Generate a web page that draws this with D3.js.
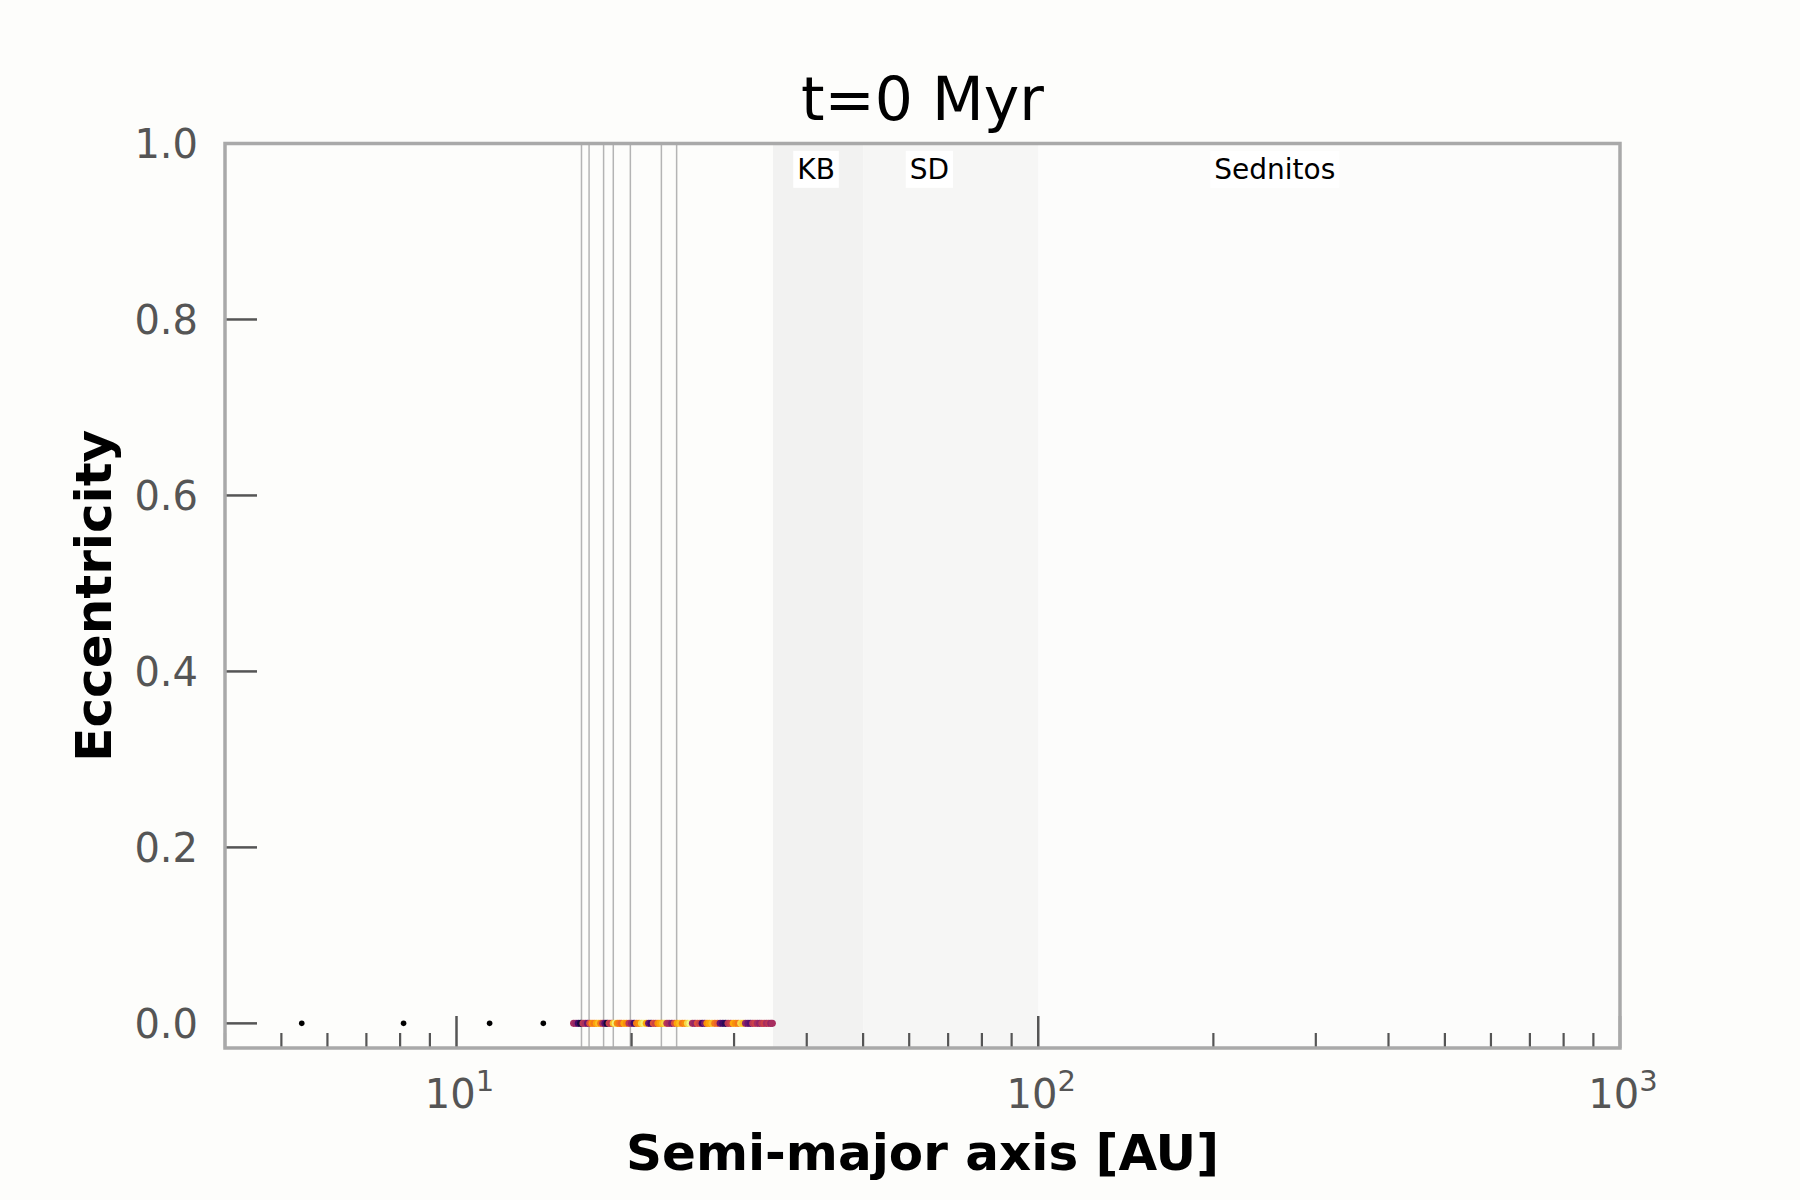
<!DOCTYPE html>
<html>
<head>
<meta charset="utf-8">
<script src="https://cdn.jsdelivr.net/npm/d3@7"></script>
<style>
  body { margin: 0; background: #fdfdfb; }
  text { font-family: "DejaVu Sans", sans-serif; }
</style>
</head>
<body>
<svg id="chart" width="1800" height="1200"></svg>
<script>
// --- data ---
var title = 't=0 Myr';
var planetA = [5.42, 8.11, 11.4, 14.1];
var resonanceA = [16.4, 16.9, 17.9, 18.6, 19.9, 22.5, 23.9];
var diskA = [15.9, 16.05, 16.2, 16.35, 16.5, 16.65, 16.8, 16.95, 17.1, 17.25, 17.4, 17.55, 17.7,
    17.85, 18.0, 18.15, 18.3, 18.45, 18.6, 18.75, 18.9, 19.05, 19.2, 19.4, 19.6, 19.8, 20.0,
    20.2, 20.4, 20.6, 20.8, 21.0, 21.2, 21.4, 21.6, 21.8, 22.0, 22.2, 22.4, 22.6, 22.8, 23.0,
    23.2, 23.45, 23.7, 23.95, 24.2, 24.45, 24.7, 24.95, 25.2, 25.45, 25.7, 25.95, 26.2, 26.45,
    26.7, 26.95, 27.2, 27.5, 27.8, 28.1, 28.4, 28.7, 29.0, 29.3, 29.6, 29.9, 30.2, 30.5, 30.8,
    31.1, 31.4, 31.7, 32.0, 32.3, 32.6, 32.9, 33.2, 33.5, 33.8, 34.1, 34.4, 34.7, 34.9];
var diskE = diskA.map(function() { return 0; });
var diskC = [0.45, 0.4, 0.2, 0.1, 0.5, 0.45, 0.3, 0.6, 0.75, 0.7, 0.8, 0.85, 0.7, 0.45, 0.25,
    0.1, 0.55, 0.5, 0.85, 0.95, 0.75, 0.7, 0.65, 0.8, 0.75, 0.5, 0.4, 0.2, 0.7, 0.75, 0.9,
    0.95, 0.8, 0.3, 0.2, 0.6, 0.55, 0.75, 0.8, 0.85, 0.9, 0.5, 0.45, 0.35, 0.6, 0.8, 0.85,
    0.7, 0.75, 0.9, 0.97, 0.45, 0.4, 0.6, 0.55, 0.2, 0.35, 0.75, 0.8, 0.85, 0.7, 0.65, 0.3,
    0.2, 0.15, 0.5, 0.55, 0.8, 0.75, 0.7, 0.9, 0.85, 0.4, 0.3, 0.25, 0.5, 0.55, 0.45, 0.4,
    0.5, 0.55, 0.45, 0.5, 0.4, 0.45];
var regionNames = ['KB', 'SD', 'Sednitos'];
var regionFrom = [35, 50, 100];
var regionTo = [50, 100, 1000];
var regionLabelA = [41.5, 65, 255];
var regionFill = ['#f2f2f1', '#f6f6f5', '#fcfcfb'];
var yTicks = [0, 0.2, 0.4, 0.6, 0.8, 1.0];
var xDecades = [1, 2, 3];

// plot box (window.top is reserved, so prefixed names)
var pLeft = 225, pRight = 1620, pTop = 143.5, pBottom = 1048;
var svg = d3.select('#chart');

var x = d3.scaleLog().domain([4, 1000]).range([pLeft, pRight]);
var y = d3.scaleLinear().domain([-0.028, 1.0]).range([pBottom, pTop]);

// shaded regions
svg.selectAll('.region')
    .data(regionNames).enter().append('rect')
    .attr('class', 'region')
    .attr('x', function(d, i) { return x(regionFrom[i]); })
    .attr('width', function(d, i) { return x(regionTo[i]) - x(regionFrom[i]); })
    .attr('y', pTop)
    .attr('height', pBottom - pTop)
    .attr('fill', function(d, i) { return regionFill[i]; });

// resonance lines
svg.selectAll('.res')
    .data(resonanceA).enter().append('line')
    .attr('x1', function(d) { return x(d); })
    .attr('x2', function(d) { return x(d); })
    .attr('y1', pTop).attr('y2', pBottom)
    .attr('stroke', '#b4b4b4').attr('stroke-width', 1.5);

// region labels with white box
var lab = svg.selectAll('.rlab')
    .data(regionNames).enter().append('g')
    .attr('transform', function(d, i) { return 'translate(' + x(regionLabelA[i]) + ',169)'; });
lab.append('text')
    .attr('text-anchor', 'middle')
    .attr('dy', '0.35em')
    .attr('font-size', 28)
    .attr('fill', '#000')
    .text(function(d) { return d; })
    .each(function() {
        var b = this.getBBox();
        d3.select(this.parentNode).insert('rect', 'text')
            .attr('x', b.x - 4).attr('y', b.y - 2)
            .attr('width', b.width + 8).attr('height', b.height + 4)
            .attr('fill', '#ffffff');
    });

// ticks (inward)
var minor = [];
[1, 10, 100].forEach(function(p) {
    for (var k = 2; k <= 9; k++) if (p * k >= 4 && p * k < 1000) minor.push(p * k);
});
svg.selectAll('.xminor')
    .data(minor).enter().append('line')
    .attr('x1', function(d) { return x(d); }).attr('x2', function(d) { return x(d); })
    .attr('y1', pBottom).attr('y2', pBottom - 15)
    .attr('stroke', '#555').attr('stroke-width', 2.2);
svg.selectAll('.xmajor')
    .data(xDecades).enter().append('line')
    .attr('x1', function(d) { return x(Math.pow(10, d)); }).attr('x2', function(d) { return x(Math.pow(10, d)); })
    .attr('y1', pBottom).attr('y2', pBottom - 32)
    .attr('stroke', '#555').attr('stroke-width', 2.5);
svg.selectAll('.ytick')
    .data(yTicks).enter().append('line')
    .attr('x1', pLeft).attr('x2', pLeft + 32)
    .attr('y1', function(d) { return y(d); }).attr('y2', function(d) { return y(d); })
    .attr('stroke', '#555').attr('stroke-width', 2.5);

// tick labels
svg.selectAll('.ylab')
    .data(yTicks).enter().append('text')
    .attr('x', 198).attr('y', function(d) { return y(d); })
    .attr('dy', '0.36em')
    .attr('text-anchor', 'end')
    .attr('font-size', 40)
    .attr('fill', '#555')
    .text(function(d) { return d.toFixed(1); });
var xl = svg.selectAll('.xlab')
    .data(xDecades).enter().append('text')
    .attr('x', function(d) { return x(Math.pow(10, d)) + 3; })
    .attr('y', 1108)
    .attr('text-anchor', 'middle')
    .attr('font-size', 40)
    .attr('fill', '#555');
xl.append('tspan').text('10');
xl.append('tspan').attr('dy', -17).attr('font-size', 29).text(function(d) { return d; });

// particles
svg.selectAll('.disk')
    .data(diskA).enter().append('circle')
    .attr('cx', function(d) { return x(d); })
    .attr('cy', function(d, i) { return y(diskE[i]); })
    .attr('r', 3.6)
    .attr('fill', function(d, i) { return d3.interpolateInferno(diskC[i]); });

// planets
svg.selectAll('.planet')
    .data(planetA).enter().append('circle')
    .attr('cx', function(d) { return x(d); })
    .attr('cy', y(0))
    .attr('r', 2.8)
    .attr('fill', '#000');

// frame
svg.append('rect')
    .attr('x', pLeft).attr('y', pTop)
    .attr('width', pRight - pLeft).attr('height', pBottom - pTop)
    .attr('fill', 'none').attr('stroke', '#a9a9a9').attr('stroke-width', 3.5);

// titles
svg.append('text')
    .attr('x', (pLeft + pRight) / 2).attr('y', 120)
    .attr('text-anchor', 'middle')
    .attr('font-size', 60)
    .attr('fill', '#000')
    .text(title);
svg.append('text')
    .attr('x', (pLeft + pRight) / 2).attr('y', 1170)
    .attr('text-anchor', 'middle')
    .attr('font-size', 50).attr('font-weight', 'bold')
    .text('Semi-major axis [AU]');
svg.append('text')
    .attr('transform', 'translate(111,' + (pTop + pBottom) / 2 + ') rotate(-90)')
    .attr('text-anchor', 'middle')
    .attr('font-size', 50).attr('font-weight', 'bold')
    .text('Eccentricity');
</script>
</body>
</html>
